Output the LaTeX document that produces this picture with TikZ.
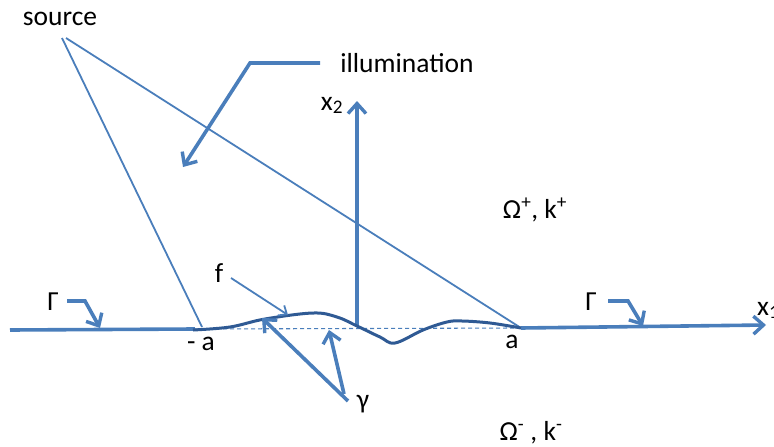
\documentclass[tikz,border=0pt]{standalone}
\usepackage{fontspec}
\setmainfont{Carlito}
\usetikzlibrary{arrows.meta}
\definecolor{lineblue}{HTML}{4A7EBB}
\definecolor{curveblue}{HTML}{2F5A94}
\begin{document}
\begin{tikzpicture}[x=1pt,y=-1pt,
  thick line/.style={draw=lineblue,line width=3.6pt},
  thin line/.style={draw=lineblue,line width=1.8pt},
  barb/.style={-{Straight Barb[length=10pt,width=18pt,line width=3.4pt]}},
  smallbarb/.style={-{Straight Barb[length=7pt,width=12pt,line width=1.8pt]}},
  lbl/.style={font=\fontsize{27.5}{30}\selectfont,inner sep=0pt,anchor=base}]
\useasboundingbox (0,0) rectangle (774,447);
% key points
\coordinate (src1) at (62,38);
\coordinate (src2) at (66,38);
\coordinate (ma) at (195,329);
\coordinate (mathin) at (202,327);
\coordinate (pa) at (521,328);
\coordinate (O) at (357,326);
\coordinate (leftend) at (10,330);
\coordinate (x1tip) at (766,325);
\coordinate (x2tip) at (357,101);
% dashed reference line
\draw[lineblue,line width=1.1pt,dash pattern=on 4pt off 3pt] (ma) -- (pa);
% axes
\draw[thick line] (leftend) -- (ma);
\draw[thick line,barb] (pa) -- (x1tip);
\draw[thick line,barb] (O) -- (x2tip);
% source rays
\draw[thin line] (src1) -- (mathin);
\draw[thin line] (src2) -- (pa);
% profile curve
\draw[curveblue,line width=3pt] plot[smooth,tension=0.6] coordinates {
 (193,330) (230,327) (265,319) (313,313) (337,317) (357,326) (380,337)
 (395,343) (423,330) (447,322) (462,321) (490,323) (521,328)};
% labels
\node[lbl] (source) at (60,25) {source};
\node[lbl] (illum) at (407,72) {illumination};
\node[lbl] (x2) at (332,110) {x\textsubscript{2}};
\node[lbl,anchor=base west] (x1) at (757,315) {x\textsubscript{1}};
\node[lbl] (op) at (535,218) {Ω\textsuperscript{+}, k\textsuperscript{+}};
\node[lbl] (om) at (531,440) {Ω\textsuperscript{-} , k\textsuperscript{-}};
\node[lbl] (gl) at (53,310) {Γ};
\node[lbl] (gr) at (591,310) {Γ};
\node[lbl] (mal) at (201,350) {- a};
\node[lbl] (pal) at (512,348) {a};
\node[lbl] (fl) at (219,282) {f};
\node[lbl] (gam) at (363,408) {γ};
% illumination pointer
\coordinate (il1) at (320,63);
\coordinate (il2) at (250,63);
\coordinate (il3) at (183,167);
\draw[thick line,barb] (il1) -- (il2) -- (il3);
% Gamma hooks
\coordinate (gl1) at (67,301);
\coordinate (gl2) at (85,301);
\coordinate (gl3) at (100,328);
\draw[thick line,barb] (gl1) -- (gl2) -- (gl3);
\coordinate (gr1) at (608,301);
\coordinate (gr2) at (628,301);
\coordinate (gr3) at (643,326);
\draw[thick line,barb] (gr1) -- (gr2) -- (gr3);
% f pointer
\coordinate (f1) at (231,278);
\coordinate (f2) at (288,315);
\draw[thin line,smallbarb] (f1) -- (f2);
% gamma pointers
\coordinate (g1) at (348,401);
\coordinate (g2) at (344,394);
\coordinate (gt1) at (262,318);
\coordinate (gt2) at (329,330);
\draw[thick line,barb] (g1) -- (gt1);
\draw[thick line,barb] (g2) -- (gt2);
\end{tikzpicture}
\end{document}
